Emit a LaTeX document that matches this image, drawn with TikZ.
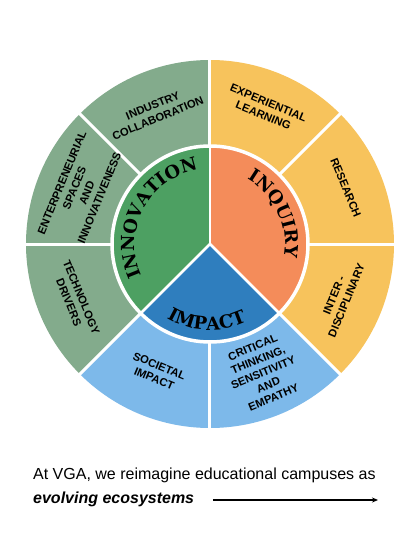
\documentclass[tikz,border=0pt]{standalone}
\usepackage{fontspec}
\setmainfont{Liberation Sans}
\newfontfamily\innerfont{DejaVu Serif}
\usetikzlibrary{decorations.text,arrows.meta}
\definecolor{sage}{HTML}{83AB8C}
\definecolor{igreen}{HTML}{4DA062}
\definecolor{iorange}{HTML}{F48C5A}
\definecolor{yel}{HTML}{F7C35C}
\definecolor{iblue}{HTML}{2F7EBE}
\definecolor{lblue}{HTML}{7DB9EA}
\begin{document}
\begin{tikzpicture}[x=1pt,y=1pt,
  outerlbl/.style={font=\bfseries\fontsize{11.2}{13.5}\selectfont, align=center, text=black, inner sep=0pt},
  sepline/.style={white, line width=3pt},
  innertext/.style={decorate, decoration={text along path, text align=center, text={|\innerfont\bfseries\fontsize{18}{22}\selectfont|#1}}},
  bottomtxt/.style={anchor=base west, inner sep=0pt, font=\fontsize{16}{19}\selectfont}
]
\useasboundingbox (-210,244) rectangle (210,-316);
\fill[white] (-210,244) rectangle (210,-316);
% outer ring
\fill[sage] (0,0) -- (90:184) arc[start angle=90, end angle=225, radius=184] -- cycle;
\fill[lblue] (0,0) -- (225:184) arc[start angle=225, end angle=315, radius=184] -- cycle;
\fill[yel] (0,0) -- (315:184) arc[start angle=315, end angle=450, radius=184] -- cycle;
% inner disc
\fill[igreen] (0,0) -- (90:98) arc[start angle=90, end angle=225, radius=98] -- cycle;
\fill[iblue] (0,0) -- (225:98) arc[start angle=225, end angle=315, radius=98] -- cycle;
\fill[iorange] (0,0) -- (315:98) arc[start angle=315, end angle=450, radius=98] -- cycle;
\draw[white, line width=3.5pt] (0,0) circle[radius=98];
\foreach \a in {0,45,...,315} \draw[sepline] (\a:98) -- (\a:186);
\foreach \a in {90,225,315} \draw[white, line width=2.5pt] (0,0) -- (\a:98);
% outer labels
\node[outerlbl, rotate=22.5] (ind) at (112.5:143) {INDUSTRY\\COLLABORATION};
\node[outerlbl, rotate=67.5] (ent) at (157.5:140) {ENTERPRENEURIAL\\SPACES\\AND\\INNOVATIVENESS};
\node[outerlbl, rotate=-67.5] (tec) at (202.5:146) {TECHNOLOGY\\DRIVERS};
\node[outerlbl, rotate=-22.5] (soc) at (247.5:139) {SOCIETAL\\IMPACT};
\node[outerlbl, rotate=22.5] (cri) at (292.5:139) {CRITICAL\\THINKING,\\SENSITIVITY\\AND\\EMPATHY};
\node[outerlbl, rotate=67.5] (int) at (337.5:141) {INTER -\\DISCIPLINARY};
\node[outerlbl, rotate=-67.5] (res) at (22.5:147) {RESEARCH};
\node[outerlbl, rotate=-22.5] (exp) at (67.5:146) {EXPERIENTIAL\\LEARNING};
% inner curved labels
\path[innertext=INNOVATION] (237:75) arc[start angle=237, end angle=67, radius=75];
\path[innertext=INQUIRY] (110:75) arc[start angle=110, end angle=-60, radius=75];
\path[innertext=IMPACT] (200:86) arc[start angle=200, end angle=335, radius=86];
% bottom text
\node[bottomtxt] (l1) at (-177,-235) {At VGA, we reimagine educational campuses as};
\node[bottomtxt, font=\bfseries\itshape\fontsize{16}{19}\selectfont] (l2) at (-177,-259) {evolving ecosystems};
\coordinate (aS) at (3,-256);
\coordinate (aE) at (168,-256);
\draw[line width=1.3pt, -{Stealth[length=6pt,width=5pt]}] (aS) -- (aE);
\end{tikzpicture}
\end{document}
